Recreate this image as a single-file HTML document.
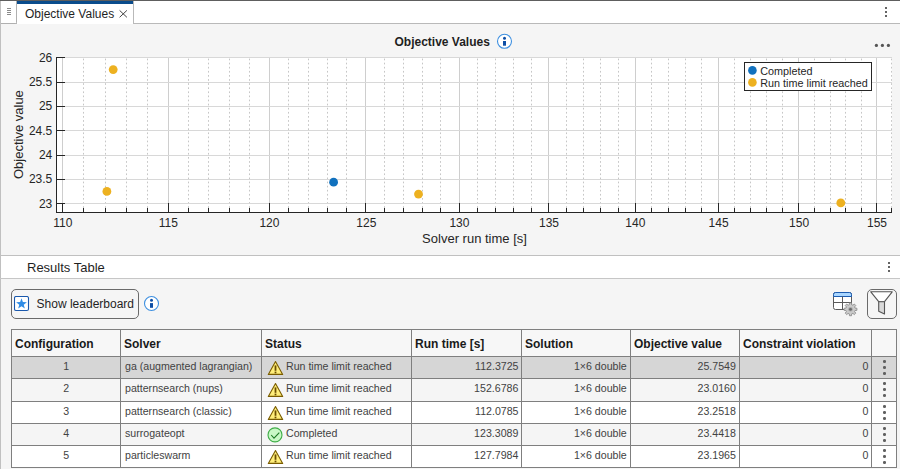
<!DOCTYPE html>
<html lang="en"><head><meta charset="utf-8"><title>Objective Values</title>
<style>
html,body{margin:0;padding:0}
body{width:900px;height:469px;position:relative;overflow:hidden;background:#f5f5f5;font-family:"Liberation Sans",Arial,sans-serif;color:#262626}
.abs{position:absolute}
.topline{left:0;top:0;width:900px;height:1px;background:#5e5e5e}
.tabbar{left:0;top:1px;width:900px;height:22px;background:#fff}
.tabline{left:0;top:23px;width:900px;height:1px;background:#b9b9b9}
.menubox{left:0;top:1px;width:16px;height:22px;background:#fff;border-right:1px solid #b0b0b0;border-bottom:1px solid #b0b0b0;border-bottom-right-radius:2px;box-sizing:content-box}
.menubox i{position:absolute;left:7px;width:4px;height:1px;background:#8a8a8a}
.tab{left:17px;top:1px;width:116px;height:23px;background:#fff;border-right:1px solid #b9b9b9}
.tab .bar{position:absolute;left:0;top:0;width:116px;height:3px;background:#0a4c8c}
.tab .lbl{position:absolute;left:8px;top:6px;font-size:12px;line-height:14px;color:#1f1f1f;white-space:nowrap}
.leftb{left:0;top:1px;width:1px;height:468px;background:#c0c0c0}
.kebab i{position:absolute;left:0;width:2px;height:2px;background:#646464}
.div1{left:0;top:255px;width:900px;height:1px;background:#c0c0c0}
.rthead{left:1px;top:256px;width:899px;height:22px;background:#fff}
.rthead .lbl{position:absolute;left:26px;top:3.5px;font-size:13px;line-height:16px;color:#1f1f1f;white-space:nowrap}
.div2{left:0;top:278px;width:900px;height:1px;background:#c6c6c6}
.btn{left:11px;top:289px;width:126px;height:28px;border:1px solid #6a6a6a;border-radius:5px;background:#f5f5f5}
.btn .lbl{position:absolute;left:24.6px;top:7px;font-size:12px;line-height:14px;color:#1f1f1f;white-space:nowrap}
.fbtn{left:867px;top:289px;width:28px;height:28px;border:1px solid #6a6a6a;border-radius:5px;background:#f5f5f5}
.tbl{position:absolute;left:11px;top:329px;width:886px;height:139px;background:#7f7f7f;border-left:0}
.th{position:absolute;top:1px;height:26px;margin-left:1px;background:#f7f7f7;font-weight:bold;font-size:12px;line-height:28px;color:#1a1a1a;white-space:nowrap;overflow:hidden}
.th span{padding-left:3px}
.tr{position:absolute;left:0;width:885px}
.tr .td{position:absolute;top:1px;height:100%;margin-left:1px;background:var(--bg);font-size:11.6px;line-height:16px;color:#424242;white-space:nowrap;overflow:hidden}
.tx{display:inline-block;transform:translateY(0.5px) scaleX(0.915)}
.tx.l{transform-origin:0 50%}
.tx.r{transform-origin:100% 50%}
.tx.c{transform-origin:50% 50%}
.td.c{text-align:center}
.td.l{text-align:left}
.td.l .tx{margin-left:4px}
.td.r{text-align:right}
.td.r .tx{margin-right:3px}
.td.s .ic{position:absolute;left:4.5px;top:2.5px}
.td.s .tx{position:absolute;left:23.5px;top:0}
.td.k i{position:absolute;left:11.2px;width:2.6px;height:2.6px;border-radius:50%;background:#606060}
.td.k i:nth-child(1){top:3.4px}.td.k i:nth-child(2){top:9.1px}.td.k i:nth-child(3){top:15px}
</style></head><body>
<div class="abs tabbar"></div>
<div class="abs tabline"></div>
<div class="abs menubox"><i style="top:7px"></i><i style="top:9px"></i><i style="top:11px"></i><i style="top:13px"></i></div>
<div class="abs tab"><div class="bar"></div><div class="lbl">Objective Values</div>
<svg class="abs" style="left:101px;top:8px" width="11" height="11" viewBox="0 0 11 11"><path d="M1.6 1.4 L8.9 8.3 M8.9 1.4 L1.6 8.3" stroke="#444" stroke-width="1" fill="none"/></svg></div>
<div class="abs topline"></div>
<div class="abs kebab" style="left:885px;top:7px"><i style="top:0"></i><i style="top:4px"></i><i style="top:8px"></i></div>
<div class="abs leftb"></div>
<svg class="chart" width="900" height="231" viewBox="0 24 900 231" style="position:absolute;left:0;top:24px">
<rect x="57" y="57" width="835" height="156" fill="#fff"/>
<g shape-rendering="crispEdges" stroke-width="1" fill="none">
<line x1="62.5" y1="57" x2="62.5" y2="212" stroke="#cecece"/>
<line x1="83.5" y1="58.6" x2="83.5" y2="212" stroke="#c6c6c6" stroke-dasharray="1.7 2.4" shape-rendering="auto"/>
<line x1="105.5" y1="58.6" x2="105.5" y2="212" stroke="#c6c6c6" stroke-dasharray="1.7 2.4" shape-rendering="auto"/>
<line x1="126.5" y1="58.6" x2="126.5" y2="212" stroke="#c6c6c6" stroke-dasharray="1.7 2.4" shape-rendering="auto"/>
<line x1="147.5" y1="58.6" x2="147.5" y2="212" stroke="#c6c6c6" stroke-dasharray="1.7 2.4" shape-rendering="auto"/>
<line x1="168.5" y1="57" x2="168.5" y2="212" stroke="#cecece"/>
<line x1="188.5" y1="58.6" x2="188.5" y2="212" stroke="#c6c6c6" stroke-dasharray="1.7 2.4" shape-rendering="auto"/>
<line x1="208.5" y1="58.6" x2="208.5" y2="212" stroke="#c6c6c6" stroke-dasharray="1.7 2.4" shape-rendering="auto"/>
<line x1="229.5" y1="58.6" x2="229.5" y2="212" stroke="#c6c6c6" stroke-dasharray="1.7 2.4" shape-rendering="auto"/>
<line x1="249.5" y1="58.6" x2="249.5" y2="212" stroke="#c6c6c6" stroke-dasharray="1.7 2.4" shape-rendering="auto"/>
<line x1="269.5" y1="57" x2="269.5" y2="212" stroke="#cecece"/>
<line x1="288.5" y1="58.6" x2="288.5" y2="212" stroke="#c6c6c6" stroke-dasharray="1.7 2.4" shape-rendering="auto"/>
<line x1="308.5" y1="58.6" x2="308.5" y2="212" stroke="#c6c6c6" stroke-dasharray="1.7 2.4" shape-rendering="auto"/>
<line x1="327.5" y1="58.6" x2="327.5" y2="212" stroke="#c6c6c6" stroke-dasharray="1.7 2.4" shape-rendering="auto"/>
<line x1="346.5" y1="58.6" x2="346.5" y2="212" stroke="#c6c6c6" stroke-dasharray="1.7 2.4" shape-rendering="auto"/>
<line x1="365.5" y1="57" x2="365.5" y2="212" stroke="#cecece"/>
<line x1="384.5" y1="58.6" x2="384.5" y2="212" stroke="#c6c6c6" stroke-dasharray="1.7 2.4" shape-rendering="auto"/>
<line x1="403.5" y1="58.6" x2="403.5" y2="212" stroke="#c6c6c6" stroke-dasharray="1.7 2.4" shape-rendering="auto"/>
<line x1="422.5" y1="58.6" x2="422.5" y2="212" stroke="#c6c6c6" stroke-dasharray="1.7 2.4" shape-rendering="auto"/>
<line x1="440.5" y1="58.6" x2="440.5" y2="212" stroke="#c6c6c6" stroke-dasharray="1.7 2.4" shape-rendering="auto"/>
<line x1="459.5" y1="57" x2="459.5" y2="212" stroke="#cecece"/>
<line x1="477.5" y1="58.6" x2="477.5" y2="212" stroke="#c6c6c6" stroke-dasharray="1.7 2.4" shape-rendering="auto"/>
<line x1="495.5" y1="58.6" x2="495.5" y2="212" stroke="#c6c6c6" stroke-dasharray="1.7 2.4" shape-rendering="auto"/>
<line x1="513.5" y1="58.6" x2="513.5" y2="212" stroke="#c6c6c6" stroke-dasharray="1.7 2.4" shape-rendering="auto"/>
<line x1="531.5" y1="58.6" x2="531.5" y2="212" stroke="#c6c6c6" stroke-dasharray="1.7 2.4" shape-rendering="auto"/>
<line x1="548.5" y1="57" x2="548.5" y2="212" stroke="#cecece"/>
<line x1="566.5" y1="58.6" x2="566.5" y2="212" stroke="#c6c6c6" stroke-dasharray="1.7 2.4" shape-rendering="auto"/>
<line x1="583.5" y1="58.6" x2="583.5" y2="212" stroke="#c6c6c6" stroke-dasharray="1.7 2.4" shape-rendering="auto"/>
<line x1="600.5" y1="58.6" x2="600.5" y2="212" stroke="#c6c6c6" stroke-dasharray="1.7 2.4" shape-rendering="auto"/>
<line x1="618.5" y1="58.6" x2="618.5" y2="212" stroke="#c6c6c6" stroke-dasharray="1.7 2.4" shape-rendering="auto"/>
<line x1="635.5" y1="57" x2="635.5" y2="212" stroke="#cecece"/>
<line x1="651.5" y1="58.6" x2="651.5" y2="212" stroke="#c6c6c6" stroke-dasharray="1.7 2.4" shape-rendering="auto"/>
<line x1="668.5" y1="58.6" x2="668.5" y2="212" stroke="#c6c6c6" stroke-dasharray="1.7 2.4" shape-rendering="auto"/>
<line x1="685.5" y1="58.6" x2="685.5" y2="212" stroke="#c6c6c6" stroke-dasharray="1.7 2.4" shape-rendering="auto"/>
<line x1="701.5" y1="58.6" x2="701.5" y2="212" stroke="#c6c6c6" stroke-dasharray="1.7 2.4" shape-rendering="auto"/>
<line x1="718.5" y1="57" x2="718.5" y2="212" stroke="#cecece"/>
<line x1="734.5" y1="58.6" x2="734.5" y2="212" stroke="#c6c6c6" stroke-dasharray="1.7 2.4" shape-rendering="auto"/>
<line x1="750.5" y1="58.6" x2="750.5" y2="212" stroke="#c6c6c6" stroke-dasharray="1.7 2.4" shape-rendering="auto"/>
<line x1="766.5" y1="58.6" x2="766.5" y2="212" stroke="#c6c6c6" stroke-dasharray="1.7 2.4" shape-rendering="auto"/>
<line x1="782.5" y1="58.6" x2="782.5" y2="212" stroke="#c6c6c6" stroke-dasharray="1.7 2.4" shape-rendering="auto"/>
<line x1="798.5" y1="57" x2="798.5" y2="212" stroke="#cecece"/>
<line x1="814.5" y1="58.6" x2="814.5" y2="212" stroke="#c6c6c6" stroke-dasharray="1.7 2.4" shape-rendering="auto"/>
<line x1="830.5" y1="58.6" x2="830.5" y2="212" stroke="#c6c6c6" stroke-dasharray="1.7 2.4" shape-rendering="auto"/>
<line x1="845.5" y1="58.6" x2="845.5" y2="212" stroke="#c6c6c6" stroke-dasharray="1.7 2.4" shape-rendering="auto"/>
<line x1="861.5" y1="58.6" x2="861.5" y2="212" stroke="#c6c6c6" stroke-dasharray="1.7 2.4" shape-rendering="auto"/>
<line x1="876.5" y1="57" x2="876.5" y2="212" stroke="#cecece"/>
<line x1="891.5" y1="58.6" x2="891.5" y2="212" stroke="#c6c6c6" stroke-dasharray="1.7 2.4" shape-rendering="auto"/>
<line x1="57" y1="57.5" x2="892" y2="57.5" stroke="#d8d8d8"/>
<line x1="57" y1="82.5" x2="892" y2="82.5" stroke="#d8d8d8"/>
<line x1="57" y1="106.5" x2="892" y2="106.5" stroke="#d8d8d8"/>
<line x1="57" y1="130.5" x2="892" y2="130.5" stroke="#d8d8d8"/>
<line x1="57" y1="155.5" x2="892" y2="155.5" stroke="#d8d8d8"/>
<line x1="57" y1="179.5" x2="892" y2="179.5" stroke="#d8d8d8"/>
<line x1="57" y1="203.5" x2="892" y2="203.5" stroke="#d8d8d8"/>
<line x1="56.5" y1="57" x2="56.5" y2="213" stroke="#262626"/>
<line x1="56" y1="212.5" x2="892" y2="212.5" stroke="#262626"/>
<line x1="62.5" y1="203" x2="62.5" y2="212" stroke="#262626"/>
<line x1="83.5" y1="208" x2="83.5" y2="212" stroke="#262626"/>
<line x1="105.5" y1="208" x2="105.5" y2="212" stroke="#262626"/>
<line x1="126.5" y1="208" x2="126.5" y2="212" stroke="#262626"/>
<line x1="147.5" y1="208" x2="147.5" y2="212" stroke="#262626"/>
<line x1="168.5" y1="203" x2="168.5" y2="212" stroke="#262626"/>
<line x1="188.5" y1="208" x2="188.5" y2="212" stroke="#262626"/>
<line x1="208.5" y1="208" x2="208.5" y2="212" stroke="#262626"/>
<line x1="229.5" y1="208" x2="229.5" y2="212" stroke="#262626"/>
<line x1="249.5" y1="208" x2="249.5" y2="212" stroke="#262626"/>
<line x1="269.5" y1="203" x2="269.5" y2="212" stroke="#262626"/>
<line x1="288.5" y1="208" x2="288.5" y2="212" stroke="#262626"/>
<line x1="308.5" y1="208" x2="308.5" y2="212" stroke="#262626"/>
<line x1="327.5" y1="208" x2="327.5" y2="212" stroke="#262626"/>
<line x1="346.5" y1="208" x2="346.5" y2="212" stroke="#262626"/>
<line x1="365.5" y1="203" x2="365.5" y2="212" stroke="#262626"/>
<line x1="384.5" y1="208" x2="384.5" y2="212" stroke="#262626"/>
<line x1="403.5" y1="208" x2="403.5" y2="212" stroke="#262626"/>
<line x1="422.5" y1="208" x2="422.5" y2="212" stroke="#262626"/>
<line x1="440.5" y1="208" x2="440.5" y2="212" stroke="#262626"/>
<line x1="459.5" y1="203" x2="459.5" y2="212" stroke="#262626"/>
<line x1="477.5" y1="208" x2="477.5" y2="212" stroke="#262626"/>
<line x1="495.5" y1="208" x2="495.5" y2="212" stroke="#262626"/>
<line x1="513.5" y1="208" x2="513.5" y2="212" stroke="#262626"/>
<line x1="531.5" y1="208" x2="531.5" y2="212" stroke="#262626"/>
<line x1="548.5" y1="203" x2="548.5" y2="212" stroke="#262626"/>
<line x1="566.5" y1="208" x2="566.5" y2="212" stroke="#262626"/>
<line x1="583.5" y1="208" x2="583.5" y2="212" stroke="#262626"/>
<line x1="600.5" y1="208" x2="600.5" y2="212" stroke="#262626"/>
<line x1="618.5" y1="208" x2="618.5" y2="212" stroke="#262626"/>
<line x1="635.5" y1="203" x2="635.5" y2="212" stroke="#262626"/>
<line x1="651.5" y1="208" x2="651.5" y2="212" stroke="#262626"/>
<line x1="668.5" y1="208" x2="668.5" y2="212" stroke="#262626"/>
<line x1="685.5" y1="208" x2="685.5" y2="212" stroke="#262626"/>
<line x1="701.5" y1="208" x2="701.5" y2="212" stroke="#262626"/>
<line x1="718.5" y1="203" x2="718.5" y2="212" stroke="#262626"/>
<line x1="734.5" y1="208" x2="734.5" y2="212" stroke="#262626"/>
<line x1="750.5" y1="208" x2="750.5" y2="212" stroke="#262626"/>
<line x1="766.5" y1="208" x2="766.5" y2="212" stroke="#262626"/>
<line x1="782.5" y1="208" x2="782.5" y2="212" stroke="#262626"/>
<line x1="798.5" y1="203" x2="798.5" y2="212" stroke="#262626"/>
<line x1="814.5" y1="208" x2="814.5" y2="212" stroke="#262626"/>
<line x1="830.5" y1="208" x2="830.5" y2="212" stroke="#262626"/>
<line x1="845.5" y1="208" x2="845.5" y2="212" stroke="#262626"/>
<line x1="861.5" y1="208" x2="861.5" y2="212" stroke="#262626"/>
<line x1="876.5" y1="203" x2="876.5" y2="212" stroke="#262626"/>
<line x1="891.5" y1="208" x2="891.5" y2="212" stroke="#262626"/>
<line x1="57" y1="57.5" x2="65" y2="57.5" stroke="#262626"/>
<line x1="57" y1="82.5" x2="65" y2="82.5" stroke="#262626"/>
<line x1="57" y1="106.5" x2="65" y2="106.5" stroke="#262626"/>
<line x1="57" y1="130.5" x2="65" y2="130.5" stroke="#262626"/>
<line x1="57" y1="155.5" x2="65" y2="155.5" stroke="#262626"/>
<line x1="57" y1="179.5" x2="65" y2="179.5" stroke="#262626"/>
<line x1="57" y1="203.5" x2="65" y2="203.5" stroke="#262626"/>
</g>
<g font-family="'Liberation Sans', Arial, sans-serif" font-size="12" fill="#262626">
<text x="62.8" y="227" text-anchor="middle">110</text>
<text x="168.3" y="227" text-anchor="middle">115</text>
<text x="269.4" y="227" text-anchor="middle">120</text>
<text x="366.3" y="227" text-anchor="middle">125</text>
<text x="459.4" y="227" text-anchor="middle">130</text>
<text x="549.0" y="227" text-anchor="middle">135</text>
<text x="635.3" y="227" text-anchor="middle">140</text>
<text x="718.6" y="227" text-anchor="middle">145</text>
<text x="799.1" y="227" text-anchor="middle">150</text>
<text x="877.0" y="227" text-anchor="middle">155</text>
<text x="52.3" y="61.5" text-anchor="end">26</text>
<text x="52.3" y="85.8" text-anchor="end">25.5</text>
<text x="52.3" y="110.2" text-anchor="end">25</text>
<text x="52.3" y="134.5" text-anchor="end">24.5</text>
<text x="52.3" y="158.8" text-anchor="end">24</text>
<text x="52.3" y="183.2" text-anchor="end">23.5</text>
<text x="52.3" y="207.5" text-anchor="end">23</text>
</g>
<text x="474.5" y="243.2" text-anchor="middle" font-family="'Liberation Sans', Arial, sans-serif" font-size="13" fill="#262626">Solver run time [s]</text>
<text transform="translate(22.6,134.6) rotate(-90)" text-anchor="middle" font-family="'Liberation Sans', Arial, sans-serif" font-size="13" fill="#262626">Objective value</text>
<text x="394.5" y="45.8" font-family="'Liberation Sans', Arial, sans-serif" font-size="12" font-weight="bold" fill="#1f1f1f">Objective Values</text>
<circle cx="504.5" cy="41.3" r="7" fill="#fff" stroke="#3d8fe0" stroke-width="1.1"/>
<circle cx="504.5" cy="38.2" r="1.5" fill="#0d4ea6"/><rect x="503" y="41" width="3" height="4.7" fill="#0d4ea6"/>
<circle cx="876.4" cy="45.4" r="1.6" fill="#555"/>
<circle cx="882.4" cy="45.4" r="1.6" fill="#555"/>
<circle cx="888.4" cy="45.4" r="1.6" fill="#555"/>
<circle cx="113.2" cy="69.6" r="4.4" fill="#edb120"/>
<circle cx="840.8" cy="202.9" r="4.4" fill="#edb120"/>
<circle cx="106.9" cy="191.4" r="4.4" fill="#edb120"/>
<circle cx="333.6" cy="182.2" r="4.4" fill="#1171be"/>
<circle cx="418.5" cy="194.1" r="4.4" fill="#edb120"/>
<rect x="744.5" y="62.5" width="127" height="28" fill="#fff" stroke="#262626" stroke-width="1" shape-rendering="crispEdges"/>
<circle cx="752.4" cy="70.4" r="4.3" fill="#1171be"/><circle cx="752.4" cy="82.4" r="4.3" fill="#edb120"/>
<g font-family="'Liberation Sans', Arial, sans-serif" font-size="10.8" fill="#262626"><text x="760.3" y="74.7">Completed</text><text x="760.3" y="86.9">Run time limit reached</text></g>
</svg>
<div class="abs div1"></div>
<div class="abs rthead"><div class="lbl">Results Table</div></div>
<div class="abs div2"></div>
<div class="abs kebab" style="left:888px;top:262px"><i style="top:0"></i><i style="top:4px"></i><i style="top:8px"></i></div>
<div class="abs btn">
<svg class="abs" style="left:2px;top:6px" width="16" height="16" viewBox="0 0 16 16"><rect x="0.5" y="0.5" width="14" height="14" rx="1.6" fill="#fff" stroke="#1a58ac" stroke-width="1.1"/><path d="M7.50 2.30 L8.88 6.10 L12.92 6.24 L9.73 8.73 L10.85 12.61 L7.50 10.35 L4.15 12.61 L5.27 8.73 L2.08 6.24 L6.12 6.10 Z" fill="#2f8ce6"/></svg>
<div class="lbl">Show leaderboard</div></div>
<svg class="abs" style="left:143px;top:295px" width="17" height="17" viewBox="0 0 17 17"><circle cx="8.5" cy="8.5" r="7" fill="#fff" stroke="#3d8fe0" stroke-width="1.1"/><circle cx="8.5" cy="5.3" r="1.5" fill="#0d4ea6"/><rect x="7" y="8.1" width="3" height="4.7" fill="#0d4ea6"/></svg>
<svg class="abs" style="left:832px;top:291px" width="28" height="26" viewBox="0 0 28 26">
<rect x="1.5" y="1.5" width="18" height="17" rx="2" fill="#fff" stroke="#5a5a5a"/>
<path d="M1.5 5.5 V3.5 a2 2 0 0 1 2 -2 h14 a2 2 0 0 1 2 2 V5.5 Z" fill="#a9d6ff" stroke="#1c5cb0"/>
<path d="M10.5 5.5 V18.5 M1.5 11.5 H19.5" stroke="#5a5a5a" fill="none"/>
<g transform="translate(18.5,18.3)"><path d="M-1.21 -4.54 L-1.04 -6.42 L1.04 -6.42 L1.21 -4.54 L2.36 -4.07 L3.81 -5.27 L5.27 -3.81 L4.07 -2.36 L4.54 -1.21 L6.42 -1.04 L6.42 1.04 L4.54 1.21 L4.07 2.36 L5.27 3.81 L3.81 5.27 L2.36 4.07 L1.21 4.54 L1.04 6.42 L-1.04 6.42 L-1.21 4.54 L-2.36 4.07 L-3.81 5.27 L-5.27 3.81 L-4.07 2.36 L-4.54 1.21 L-6.42 1.04 L-6.42 -1.04 L-4.54 -1.21 L-4.07 -2.36 L-5.27 -3.81 L-3.81 -5.27 L-2.36 -4.07 Z" fill="#cacaca" stroke="#8c8c8c" stroke-width="0.9" stroke-linejoin="round"/><circle r="2.3" fill="#a8a8a8"/><circle r="1.4" fill="#6a6a6a"/></g>
</svg>
<div class="abs fbtn"><svg class="abs" style="left:-0.5px;top:-1px" width="28" height="28" viewBox="0 0 28 28"><path d="M2.8 2.8 H24.2 L16.5 12.7 H10.7 Z" fill="#fff" stroke="#555" stroke-width="1.1" stroke-linejoin="round"/><path d="M10.7 12.7 H16.5 V25 L10.7 22.2 Z" fill="#d9d9d9" stroke="#555" stroke-width="1.1" stroke-linejoin="round"/></svg></div>
<div class="tbl">
<div class="th" style="left:0px;width:108px"><span>Configuration</span></div>
<div class="th" style="left:109px;width:140px"><span>Solver</span></div>
<div class="th" style="left:250px;width:149px"><span>Status</span></div>
<div class="th" style="left:400px;width:109px"><span>Run time [s]</span></div>
<div class="th" style="left:510px;width:108px"><span>Solution</span></div>
<div class="th" style="left:619px;width:108px"><span>Objective value</span></div>
<div class="th" style="left:728px;width:131px"><span>Constraint violation</span></div>
<div class="th" style="left:860px;width:24px"><span></span></div>
<div class="tr" style="top:27px;height:21px;--bg:#d6d6d6">
<div class="td c" style="left:0px;width:108px"><span class="tx c">1</span></div>
<div class="td l" style="left:109px;width:140px"><span class="tx l">ga (augmented lagrangian)</span></div>
<div class="td s" style="left:250px;width:149px"><svg class="ic" width="17" height="16" viewBox="0 0 17 16"><path d="M8.5 1.6 L15.7 14.4 L1.3 14.4 Z" fill="#ffee7a" stroke="#7a5c00" stroke-width="1.1" stroke-linejoin="round"/><rect x="7.6" y="5.4" width="1.8" height="5.4" fill="#6b4e00"/><rect x="7.6" y="11.6" width="1.8" height="1.7" fill="#6b4e00"/></svg><span class="tx l">Run time limit reached</span></div>
<div class="td r" style="left:400px;width:109px"><span class="tx r">112.3725</span></div>
<div class="td r" style="left:510px;width:108px"><span class="tx r">1×6 double</span></div>
<div class="td r" style="left:619px;width:108px"><span class="tx r">25.7549</span></div>
<div class="td r" style="left:728px;width:131px"><span class="tx r">0</span></div>
<div class="td k" style="left:860px;width:24px"><i></i><i></i><i></i></div>
</div>
<div class="tr" style="top:49px;height:22px;--bg:#f5f5f5">
<div class="td c" style="left:0px;width:108px"><span class="tx c">2</span></div>
<div class="td l" style="left:109px;width:140px"><span class="tx l">patternsearch (nups)</span></div>
<div class="td s" style="left:250px;width:149px"><svg class="ic" width="17" height="16" viewBox="0 0 17 16"><path d="M8.5 1.6 L15.7 14.4 L1.3 14.4 Z" fill="#ffee7a" stroke="#7a5c00" stroke-width="1.1" stroke-linejoin="round"/><rect x="7.6" y="5.4" width="1.8" height="5.4" fill="#6b4e00"/><rect x="7.6" y="11.6" width="1.8" height="1.7" fill="#6b4e00"/></svg><span class="tx l">Run time limit reached</span></div>
<div class="td r" style="left:400px;width:109px"><span class="tx r">152.6786</span></div>
<div class="td r" style="left:510px;width:108px"><span class="tx r">1×6 double</span></div>
<div class="td r" style="left:619px;width:108px"><span class="tx r">23.0160</span></div>
<div class="td r" style="left:728px;width:131px"><span class="tx r">0</span></div>
<div class="td k" style="left:860px;width:24px"><i></i><i></i><i></i></div>
</div>
<div class="tr" style="top:72px;height:21px;--bg:#fff">
<div class="td c" style="left:0px;width:108px"><span class="tx c">3</span></div>
<div class="td l" style="left:109px;width:140px"><span class="tx l">patternsearch (classic)</span></div>
<div class="td s" style="left:250px;width:149px"><svg class="ic" width="17" height="16" viewBox="0 0 17 16"><path d="M8.5 1.6 L15.7 14.4 L1.3 14.4 Z" fill="#ffee7a" stroke="#7a5c00" stroke-width="1.1" stroke-linejoin="round"/><rect x="7.6" y="5.4" width="1.8" height="5.4" fill="#6b4e00"/><rect x="7.6" y="11.6" width="1.8" height="1.7" fill="#6b4e00"/></svg><span class="tx l">Run time limit reached</span></div>
<div class="td r" style="left:400px;width:109px"><span class="tx r">112.0785</span></div>
<div class="td r" style="left:510px;width:108px"><span class="tx r">1×6 double</span></div>
<div class="td r" style="left:619px;width:108px"><span class="tx r">23.2518</span></div>
<div class="td r" style="left:728px;width:131px"><span class="tx r">0</span></div>
<div class="td k" style="left:860px;width:24px"><i></i><i></i><i></i></div>
</div>
<div class="tr" style="top:94px;height:21px;--bg:#f5f5f5">
<div class="td c" style="left:0px;width:108px"><span class="tx c">4</span></div>
<div class="td l" style="left:109px;width:140px"><span class="tx l">surrogateopt</span></div>
<div class="td s" style="left:250px;width:149px"><svg class="ic" width="17" height="16" viewBox="0 0 17 16"><circle cx="8" cy="7.9" r="7" fill="#c9f7c6" stroke="#3fae47" stroke-width="1.1"/><path d="M4.2 8.0 L7.0 11.1 L12.3 5.6" fill="none" stroke="#1f7a25" stroke-width="1.1"/></svg><span class="tx l">Completed</span></div>
<div class="td r" style="left:400px;width:109px"><span class="tx r">123.3089</span></div>
<div class="td r" style="left:510px;width:108px"><span class="tx r">1×6 double</span></div>
<div class="td r" style="left:619px;width:108px"><span class="tx r">23.4418</span></div>
<div class="td r" style="left:728px;width:131px"><span class="tx r">0</span></div>
<div class="td k" style="left:860px;width:24px"><i></i><i></i><i></i></div>
</div>
<div class="tr" style="top:116px;height:21px;--bg:#fff">
<div class="td c" style="left:0px;width:108px"><span class="tx c">5</span></div>
<div class="td l" style="left:109px;width:140px"><span class="tx l">particleswarm</span></div>
<div class="td s" style="left:250px;width:149px"><svg class="ic" width="17" height="16" viewBox="0 0 17 16"><path d="M8.5 1.6 L15.7 14.4 L1.3 14.4 Z" fill="#ffee7a" stroke="#7a5c00" stroke-width="1.1" stroke-linejoin="round"/><rect x="7.6" y="5.4" width="1.8" height="5.4" fill="#6b4e00"/><rect x="7.6" y="11.6" width="1.8" height="1.7" fill="#6b4e00"/></svg><span class="tx l">Run time limit reached</span></div>
<div class="td r" style="left:400px;width:109px"><span class="tx r">127.7984</span></div>
<div class="td r" style="left:510px;width:108px"><span class="tx r">1×6 double</span></div>
<div class="td r" style="left:619px;width:108px"><span class="tx r">23.1965</span></div>
<div class="td r" style="left:728px;width:131px"><span class="tx r">0</span></div>
<div class="td k" style="left:860px;width:24px"><i></i><i></i><i></i></div>
</div>
</div>
</body></html>
